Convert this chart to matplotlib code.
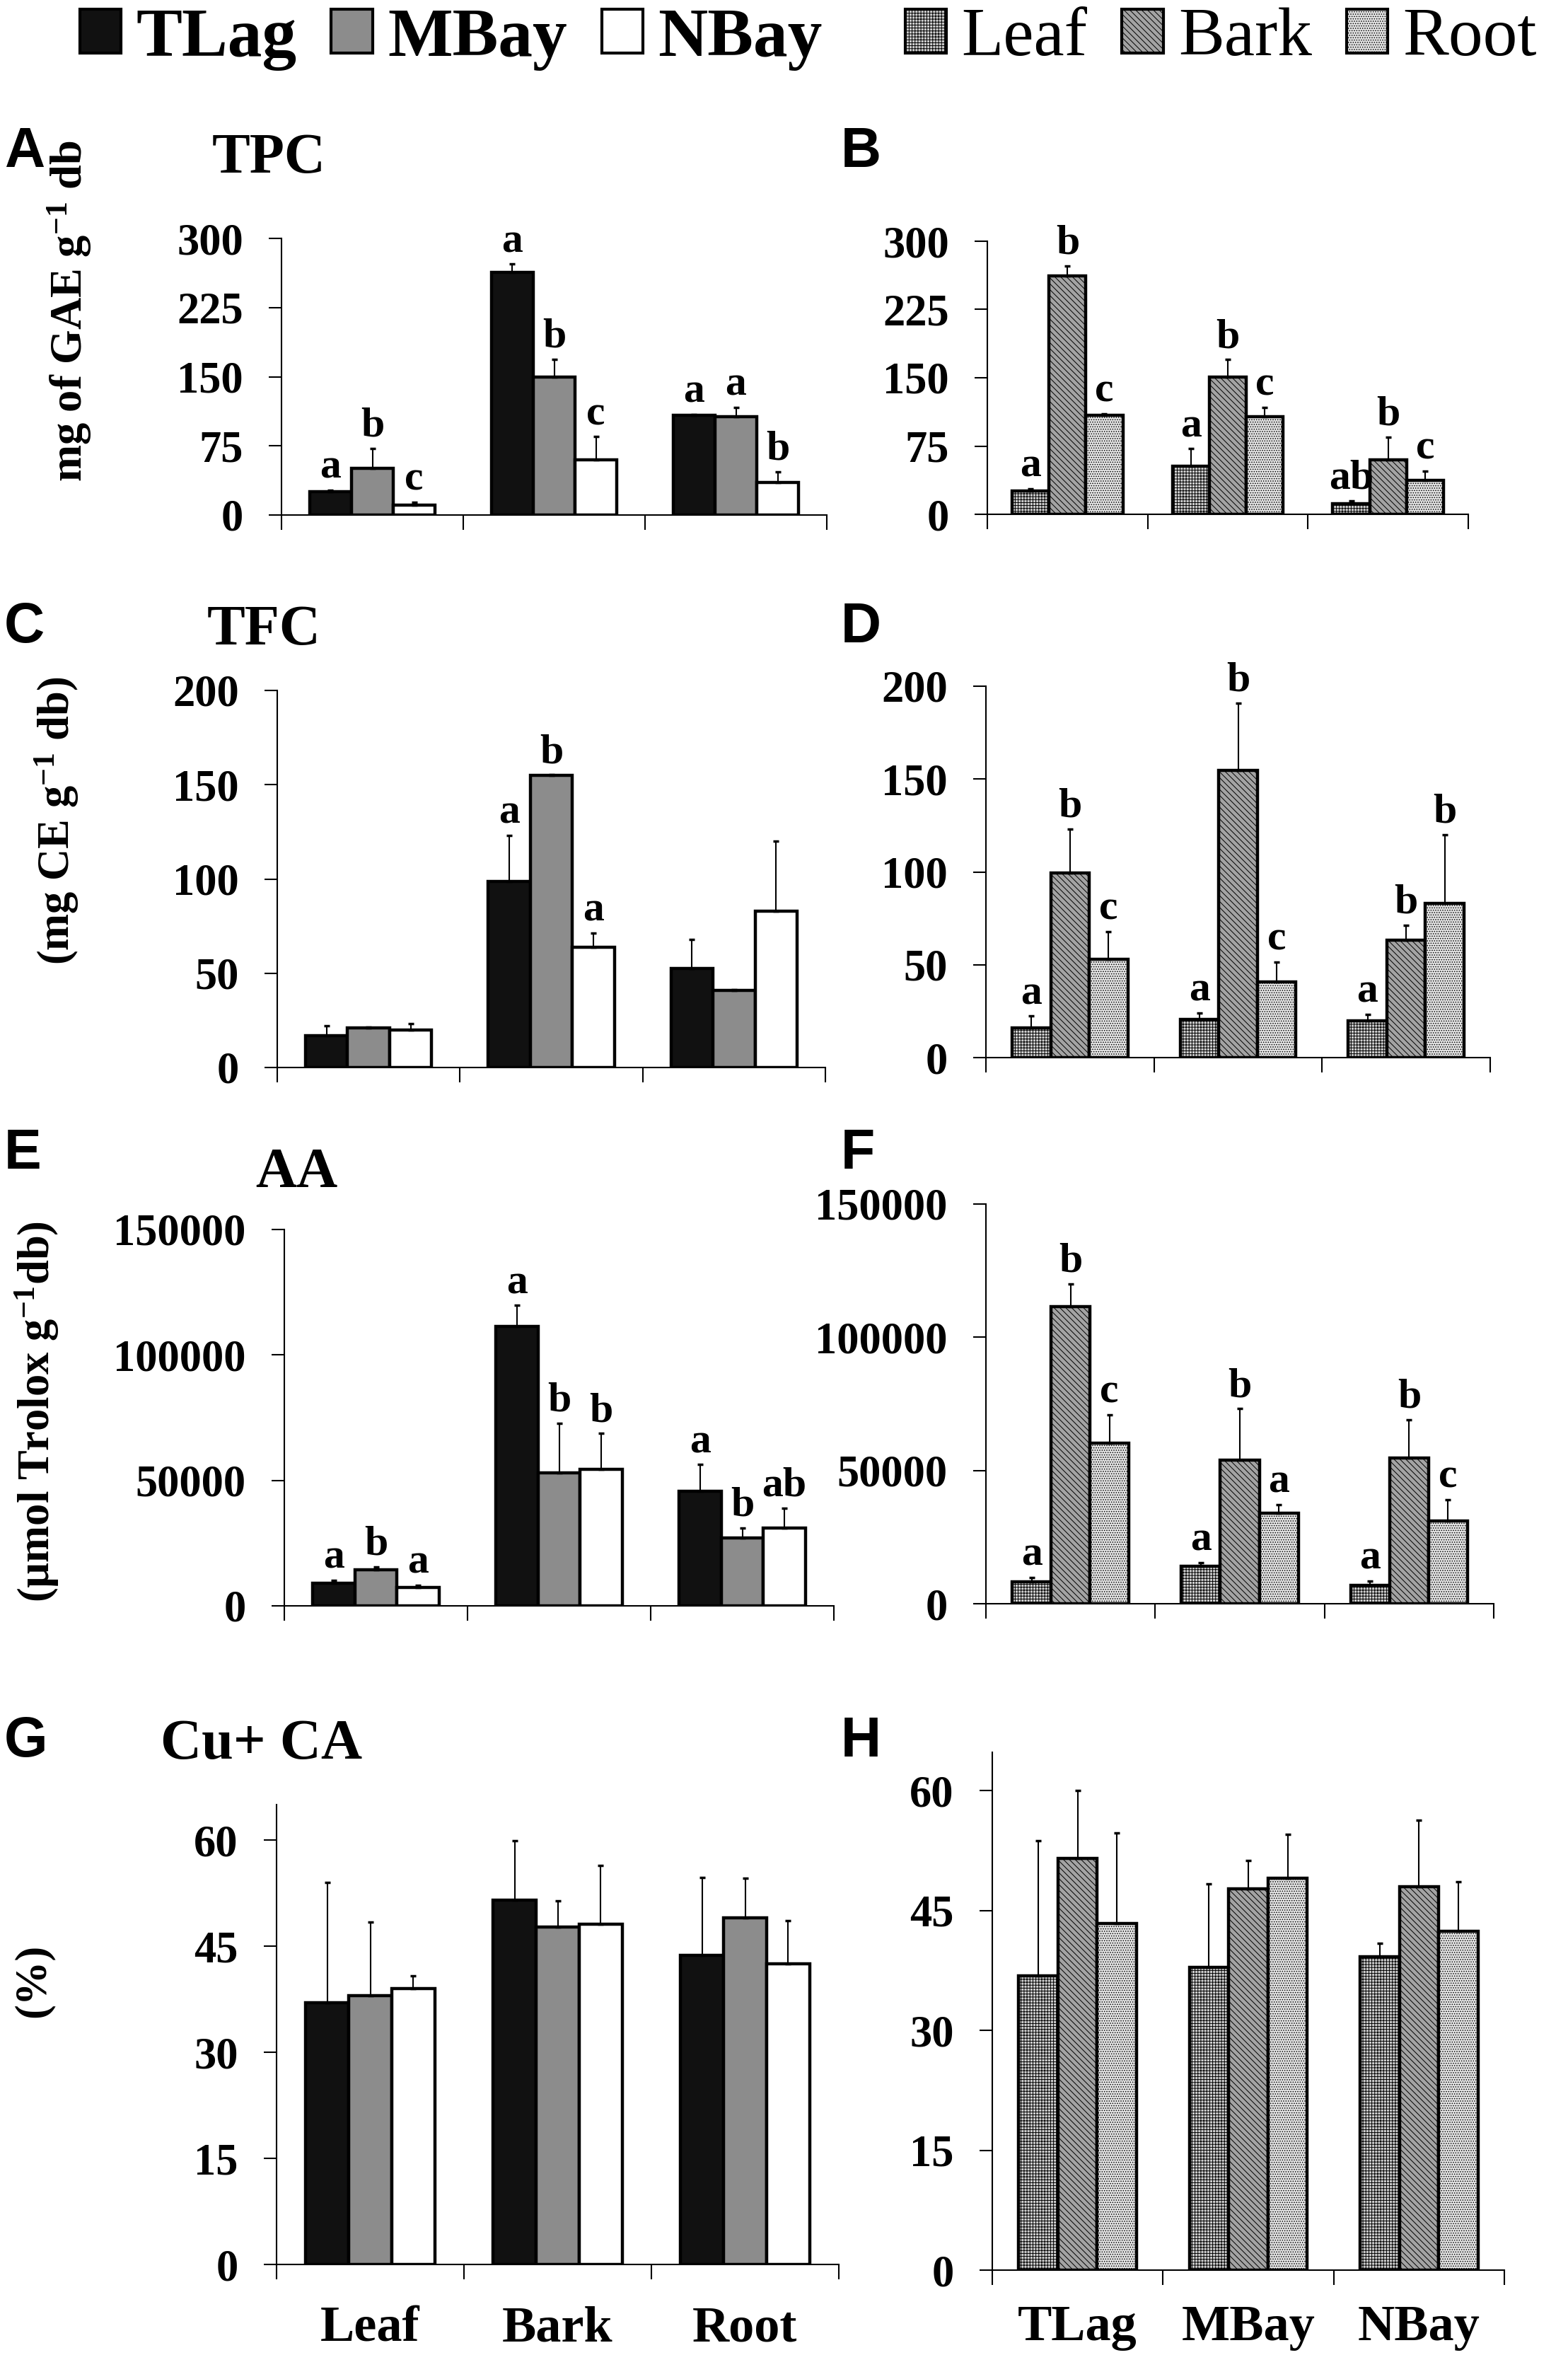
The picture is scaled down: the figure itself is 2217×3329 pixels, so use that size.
import numpy as np
import matplotlib
matplotlib.use("Agg")
import matplotlib.pyplot as plt
from matplotlib.patches import Patch

plt.rcParams['font.family'] = ['Liberation Serif', 'DejaVu Serif']
plt.rcParams['font.weight'] = 'bold'
plt.rcParams['mathtext.fontset'] = 'custom'
plt.rcParams['mathtext.rm'] = 'Liberation Serif:bold'
plt.rcParams['mathtext.bf'] = 'Liberation Serif:bold'
plt.rcParams['mathtext.default'] = 'bf'
plt.rcParams['hatch.linewidth'] = 0.7

organs = ['Leaf', 'Bark', 'Root']
sites = ['TLag', 'MBay', 'NBay']

# A : TPC, rows = site (TLag, MBay, NBay), cols = organ (Leaf, Bark, Root)
tpc_a = [[25, 263, 108], [51, 150, 107], [11, 60, 35]]
tpc_a_err = [[2, 9, 1], [21, 19, 10], [3, 25, 12]]
tpc_a_lab = [['a', 'a', 'a'], ['b', 'b', 'a'], ['c', 'c', 'b']]

# B : TPC, rows = organ, cols = site
tpc_b = [[26, 53, 12], [262, 151, 60], [109, 107, 37]]
tpc_b_err = [[2, 19, 3], [11, 19, 25], [1.5, 10.5, 10.5]]
tpc_b_lab = [['a', 'a', 'ab'], ['b', 'b', 'b'], ['c', 'c', 'c']]

# C : TFC
tfc_c = [[17, 98.7, 52.5], [21, 154.8, 41], [19.7, 63.7, 83]]
tfc_c_err = [[5, 24.5, 15.6], [0.4, 0.4, 0.4], [3.6, 7.7, 37]]
tfc_c_lab = [['', 'a', ''], ['', 'b', ''], ['', 'a', '']]

# D : TFC
tfc_d = [[16, 20.6, 19.7], [99.4, 154.6, 63.4], [52.9, 40.7, 83]]
tfc_d_err = [[6.4, 3.4, 3.6], [23.6, 36.4, 7.9], [15.1, 10.9, 37]]
tfc_d_lab = [['a', 'a', 'a'], ['b', 'b', 'b'], ['c', 'c', 'b']]

# E : AA
aa_e = [[8900, 111300, 45600], [14300, 53000, 27000], [7400, 54300, 31000]]
aa_e_err = [[1300, 8400, 10700], [1300, 19800, 4100], [800, 14400, 8000]]
aa_e_lab = [['a', 'a', 'a'], ['b', 'b', 'b'], ['a', 'b', 'ab']]

# F : AA
aa_f = [[8100, 14000, 6900], [111500, 53800, 54800], [60200, 34100, 31100]]
aa_f_err = [[1700, 1500, 1600], [8500, 19400, 14200], [10800, 3200, 7900]]
aa_f_lab = [['a', 'a', 'a'], ['b', 'b', 'b'], ['c', 'a', 'c']]

# G, H : Cu+ CA (%)
ca_g = [[37.0, 51.5, 43.7], [38.0, 47.7, 49.0], [39.0, 48.1, 42.5]]
ca_g_err = [[17.0, 8.4, 11.0], [10.4, 3.7, 5.6], [1.8, 8.3, 6.1]]
ca_h = [[36.8, 37.9, 39.2], [51.5, 47.7, 48.0], [43.4, 49.0, 42.4]]
ca_h_err = [[16.9, 10.4, 1.7], [8.5, 3.6, 8.3], [11.3, 5.5, 6.2]]

site_styles = [dict(facecolor='#111111', hatch=None),
               dict(facecolor='#8c8c8c', hatch=None),
               dict(facecolor='white', hatch=None)]
organ_styles = [dict(facecolor='#cfcfcf', hatch='++++'),
                dict(facecolor='#a3a3a3', hatch='\\\\\\\\'),
                dict(facecolor='#e4e4e4', hatch='.....')]

bw = 0.23
offs = [-bw, 0, bw]


def draw_panel(ax, vals, errs, labs, styles, ylim, yticks, xlabels=None, xpad=42):
    x = np.arange(3)
    for i in range(3):
        v = np.array(vals[i], dtype=float)
        e = np.array(errs[i], dtype=float)
        ax.bar(x + offs[i], v, width=bw, edgecolor='black', linewidth=3.2,
               zorder=2, **styles[i])
        ax.errorbar(x + offs[i], v, yerr=[np.zeros(3), e], fmt='none',
                    ecolor='black', elinewidth=1.5, capsize=3, capthick=2.5,
                    zorder=3)
        if labs is not None:
            for j in range(3):
                if labs[i][j]:
                    ax.annotate(labs[i][j], (x[j] + offs[i], v[j] + e[j]),
                                xytext=(0, 3), textcoords='offset points',
                                ha='center', va='bottom', fontsize=43,
                                fontweight='bold')
    ax.set_xlim(-0.5, 2.5)
    ax.set_ylim(*ylim)
    ax.set_yticks(yticks)
    ax.set_yticklabels([str(t) for t in yticks])
    ax.set_xticks([-0.5, 0.5, 1.5, 2.5], minor=True)
    if xlabels is not None:
        ax.set_xticks(x)
        ax.set_xticklabels(xlabels, fontsize=52, fontweight='bold')
    else:
        ax.set_xticks([])
    ax.tick_params(axis='x', which='major', length=0, pad=xpad)
    ax.tick_params(axis='x', which='minor', direction='out', length=15, width=1.5)
    ax.tick_params(axis='y', direction='out', length=13, width=1.5,
                   labelsize=45, pad=26)
    for s in ['top', 'right']:
        ax.spines[s].set_visible(False)
    for s in ['left', 'bottom']:
        ax.spines[s].set_linewidth(1.5)


W, H = 2217, 3329
fig = plt.figure(figsize=(W / 100, H / 100), dpi=100)


def add_ax(left, right, bottom, top):
    return fig.add_axes([left / W, 1 - bottom / H, (right - left) / W, (bottom - top) / H])


axA = add_ax(398, 1169, 728, 337)
axB = add_ax(1396, 2076, 727, 341)
axC = add_ax(392, 1167, 1509, 976)
axD = add_ax(1394, 2107, 1495, 970)
axE = add_ax(402, 1179, 2270, 1738)
axF = add_ax(1394, 2112, 2267, 1702)
axG = add_ax(391, 1186, 3201, 2551)
axH = add_ax(1403, 2127, 3209, 2477)

draw_panel(axA, tpc_a, tpc_a_err, tpc_a_lab, site_styles, (0, 300), [0, 75, 150, 225, 300])
draw_panel(axB, tpc_b, tpc_b_err, tpc_b_lab, organ_styles, (0, 300), [0, 75, 150, 225, 300])
draw_panel(axC, tfc_c, tfc_c_err, tfc_c_lab, site_styles, (0, 200), [0, 50, 100, 150, 200])
draw_panel(axD, tfc_d, tfc_d_err, tfc_d_lab, organ_styles, (0, 200), [0, 50, 100, 150, 200])
draw_panel(axE, aa_e, aa_e_err, aa_e_lab, site_styles, (0, 150000), [0, 50000, 100000, 150000])
draw_panel(axF, aa_f, aa_f_err, aa_f_lab, organ_styles, (0, 150000), [0, 50000, 100000, 150000])
draw_panel(axG, ca_g, ca_g_err, None, site_styles, (0, 65), [0, 15, 30, 45, 60], organs, xpad=42)
draw_panel(axH, ca_h, ca_h_err, None, organ_styles, (0, 64.8), [0, 15, 30, 45, 60], sites, xpad=35)

# panel letters
for letter, px, py in [('A', 6, 178), ('B', 1189, 178), ('C', 6, 850), ('D', 1189, 850),
                       ('E', 6, 1594), ('F', 1189, 1594), ('G', 6, 2425), ('H', 1189, 2425)]:
    fig.text(px / W, 1 - py / H, letter, ha='left', va='top', fontsize=57,
             fontweight='bold', family=['Liberation Sans', 'DejaVu Sans'])

# panel titles
for title, px, py in [('TPC', 300, 188), ('TFC', 293, 855), ('AA', 361, 1622),
                      ('Cu+ CA', 227, 2430)]:
    fig.text(px / W, 1 - py / H, title, ha='left', va='top', fontsize=58,
             fontweight='bold')

# y labels
for lab, px, py in [(r'mg of GAE g$^{-1}$ db', 98, 440),
                    (r'(mg CE g$^{-1}$ db)', 80, 1160),
                    (r'(µmol Trolox g$^{-1}$db)', 52, 1996),
                    ('(%)', 48, 2800)]:
    fig.text(px / W, 1 - py / H, lab, ha='center', va='center', rotation=90,
             fontsize=45, fontweight='bold')

# legends
site_handles = [Patch(edgecolor='black', linewidth=3, **st) for st in site_styles]
organ_handles = [Patch(edgecolor='black', linewidth=3, **st) for st in organ_styles]
leg_kw = dict(loc='center left', frameon=False, ncol=3, handlelength=0.6,
              handleheight=0.6, handletextpad=0.22, columnspacing=0.5,
              borderpad=0, borderaxespad=0)
fig.legend(site_handles, sites, bbox_to_anchor=(113 / W, 1 - 55 / H),
           prop=dict(family='Liberation Serif', weight='bold', size=70), **leg_kw)
fig.legend(organ_handles, organs, bbox_to_anchor=(1280 / W, 1 - 55 / H),
           prop=dict(family='Liberation Serif', weight='normal', size=70), **leg_kw)

fig.savefig('out.png', dpi=100)
